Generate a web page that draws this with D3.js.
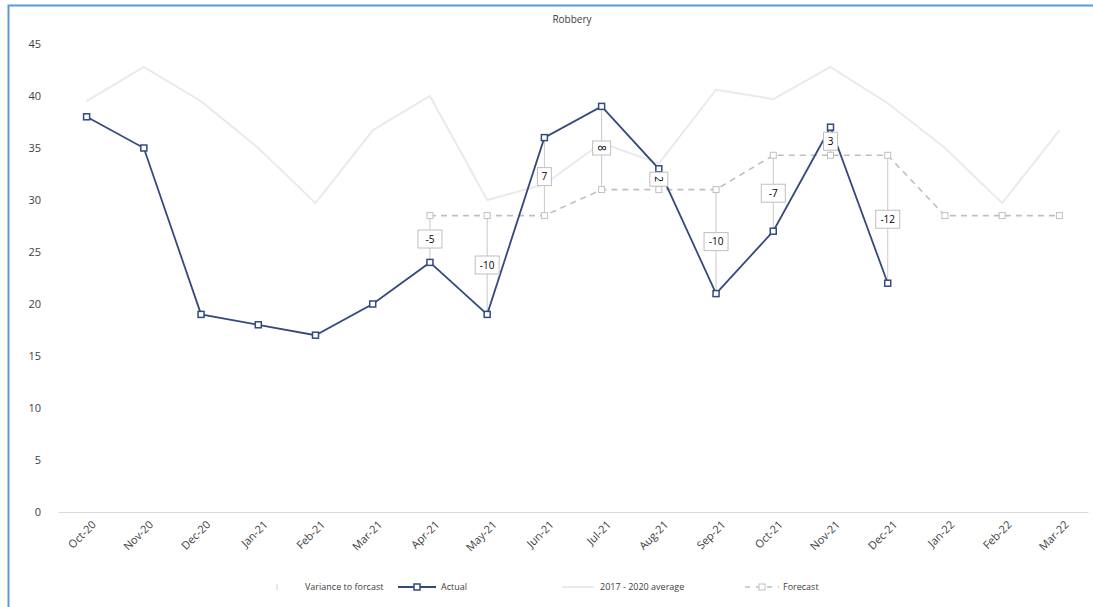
<!DOCTYPE html>
<html>
<head>
<meta charset="utf-8">
<script src="https://cdn.jsdelivr.net/npm/d3@7"></script>
<style>
  body { margin: 0; background: #fff; }
  text { font-family: "Open Sans", "DejaVu Sans", sans-serif; }
</style>
</head>
<body>
<div id="chart"></div>
<script>
var months = ["Oct-20","Nov-20","Dec-20","Jan-21","Feb-21","Mar-21","Apr-21","May-21","Jun-21",
              "Jul-21","Aug-21","Sep-21","Oct-21","Nov-21","Dec-21","Jan-22","Feb-22","Mar-22"];
var actual   = [38, 35, 19, 18, 17, 20, 24, 19, 36, 39, 33, 21, 27, 37, 22, null, null, null];
var average  = [39.5, 42.8, 39.5, 35, 29.7, 36.7, 40, 30, 31.5, 35.5, 33.5, 40.6, 39.7, 42.8, 39.3, 35, 29.7, 36.7];
var forecast = [null, null, null, null, null, null, 28.5, 28.5, 28.5, 31, 31, 31, 34.3, 34.3, 34.3, 28.5, 28.5, 28.5];
var variance = [null, null, null, null, null, null, -5, -10, 7, 8, 2, -10, -7, 3, -12, null, null, null];
var yTicks = [0, 5, 10, 15, 20, 25, 30, 35, 40, 45];

var W = 1093, H = 607;
var margin = {top: 44, left: 58, right: 5, bottom: 95};

var svg = d3.select("#chart").append("svg")
    .attr("width", W).attr("height", H);

// frame
svg.append("rect")
    .attr("x", 8.5).attr("y", 5.5)
    .attr("width", W + 20).attr("height", H + 20)
    .style("fill", "none").style("stroke", "#5b9bd5").style("stroke-width", 2);

var x = d3.scaleBand().domain(months).range([margin.left, W - margin.right]);
var y = d3.scaleLinear().domain([0, 45]).range([H - margin.bottom, margin.top]);
var cx = function(d, i){ return x(months[i]) + x.bandwidth() / 2; };

svg.append("text")
    .attr("x", 572).attr("y", 23)
    .attr("text-anchor", "middle")
    .style("font-size", "10px").style("fill", "#404040")
    .text("Robbery");

// y axis labels
var gy = svg.append("g")
    .attr("transform", "translate(" + margin.left + ",0)")
    .call(d3.axisLeft(y).tickValues(yTicks).tickSize(0).tickPadding(17));
gy.select(".domain").remove();
gy.selectAll("text").style("font-size", "11px").style("fill", "#404040")
    .style("font-family", "'Open Sans', sans-serif");

// x axis
var gx = svg.append("g")
    .attr("transform", "translate(0," + y(0) + ")")
    .call(d3.axisBottom(x).tickSize(0).tickPadding(10));
gx.select(".domain").style("stroke", "#d9d9d9");
gx.selectAll("text")
    .style("font-size", "11px").style("fill", "#404040")
    .style("font-family", "'Open Sans', sans-serif")
    .attr("text-anchor", "end")
    .attr("dx", "-0.2em").attr("dy", "0.6em")
    .attr("transform", "rotate(-45)");

// 2017 - 2020 average
var lineAvg = d3.line().x(cx).y(function(d){ return y(d); });
svg.append("path").datum(average)
    .attr("d", lineAvg)
    .style("fill", "none").style("stroke", "#e9e9ee").style("stroke-width", 2);

// variance lines
var vIdx = d3.range(months.length).filter(function(i){ return variance[i] !== null; });
svg.append("g").selectAll("line").data(vIdx).enter().append("line")
    .attr("x1", function(i){ return cx(null, i); })
    .attr("x2", function(i){ return cx(null, i); })
    .attr("y1", function(i){ return y(forecast[i]); })
    .attr("y2", function(i){ return y(actual[i]); })
    .style("stroke", "#c9c9c9").style("stroke-width", 1);

// forecast
var lineF = d3.line().defined(function(d){ return d !== null; })
    .x(cx).y(function(d){ return y(d); });
svg.append("path").datum(forecast)
    .attr("d", lineF)
    .style("fill", "none").style("stroke", "#bfbfbf")
    .style("stroke-width", 1.6).style("stroke-dasharray", "6,5");
svg.append("g").selectAll("rect")
    .data(d3.range(months.length).filter(function(i){ return forecast[i] !== null; }))
    .enter().append("rect")
    .attr("x", function(i){ return cx(null, i) - 3; })
    .attr("y", function(i){ return y(forecast[i]) - 3; })
    .attr("width", 6).attr("height", 6)
    .style("fill", "#fff").style("stroke", "#bfbfbf").style("stroke-width", 1);

// actual
var lineA = d3.line().defined(function(d){ return d !== null; })
    .x(cx).y(function(d){ return y(d); });
svg.append("path").datum(actual)
    .attr("d", lineA)
    .style("fill", "none").style("stroke", "#34497f").style("stroke-width", 1.8);
svg.append("g").selectAll("rect")
    .data(d3.range(months.length).filter(function(i){ return actual[i] !== null; }))
    .enter().append("rect")
    .attr("x", function(i){ return cx(null, i) - 3; })
    .attr("y", function(i){ return y(actual[i]) - 3; })
    .attr("width", 6).attr("height", 6)
    .style("fill", "#fff").style("stroke", "#34497f").style("stroke-width", 1.5);

// variance labels
var rotated = ["Jul-21", "Aug-21"];
var lab = svg.append("g").selectAll("g").data(vIdx).enter().append("g")
    .attr("transform", function(i){
        var my = (y(forecast[i]) + y(actual[i])) / 2;
        var r = rotated.indexOf(months[i]) >= 0 ? " rotate(90)" : "";
        return "translate(" + cx(null, i) + "," + my + ")" + r;
    });
lab.append("rect")
    .attr("x", function(i){ return String(variance[i]).length > 1 ? -12 : -7; })
    .attr("y", -9)
    .attr("width", function(i){ return String(variance[i]).length > 1 ? 24 : 14; })
    .attr("height", 18)
    .style("fill", "#fff").style("stroke", "#bfbfbf").style("stroke-width", 1);
lab.append("text")
    .attr("text-anchor", "middle").attr("dy", "0.35em")
    .style("font-size", "10px").style("fill", "#000")
    .text(function(i){ return variance[i]; });

// legend
var lg = svg.append("g").attr("transform", "translate(0,587)");
lg.append("line").attr("x1", 277).attr("x2", 277).attr("y1", -3).attr("y2", 3)
    .style("stroke", "#c9c9c9");
lg.append("text").attr("x", 305).attr("y", 3).text("Variance to forcast");
lg.append("line").attr("x1", 398).attr("x2", 436).attr("y1", 0).attr("y2", 0)
    .style("stroke", "#34497f").style("stroke-width", 1.8);
lg.append("rect").attr("x", 414).attr("y", -3).attr("width", 6).attr("height", 6)
    .style("fill", "#fff").style("stroke", "#34497f").style("stroke-width", 1.5);
lg.append("text").attr("x", 441).attr("y", 3).text("Actual");
lg.append("line").attr("x1", 562).attr("x2", 594).attr("y1", 0).attr("y2", 0)
    .style("stroke", "#e9e9ee").style("stroke-width", 2);
lg.append("text").attr("x", 600).attr("y", 3).text("2017 - 2020 average");
lg.append("line").attr("x1", 745).attr("x2", 779).attr("y1", 0).attr("y2", 0)
    .style("stroke", "#bfbfbf").style("stroke-width", 1.6).style("stroke-dasharray", "5,6");
lg.append("rect").attr("x", 759).attr("y", -3).attr("width", 6).attr("height", 6)
    .style("fill", "#fff").style("stroke", "#bfbfbf");
lg.append("text").attr("x", 783).attr("y", 3).text("Forecast");
lg.selectAll("text").style("font-size", "9px").style("fill", "#404040");
</script>
</body>
</html>
